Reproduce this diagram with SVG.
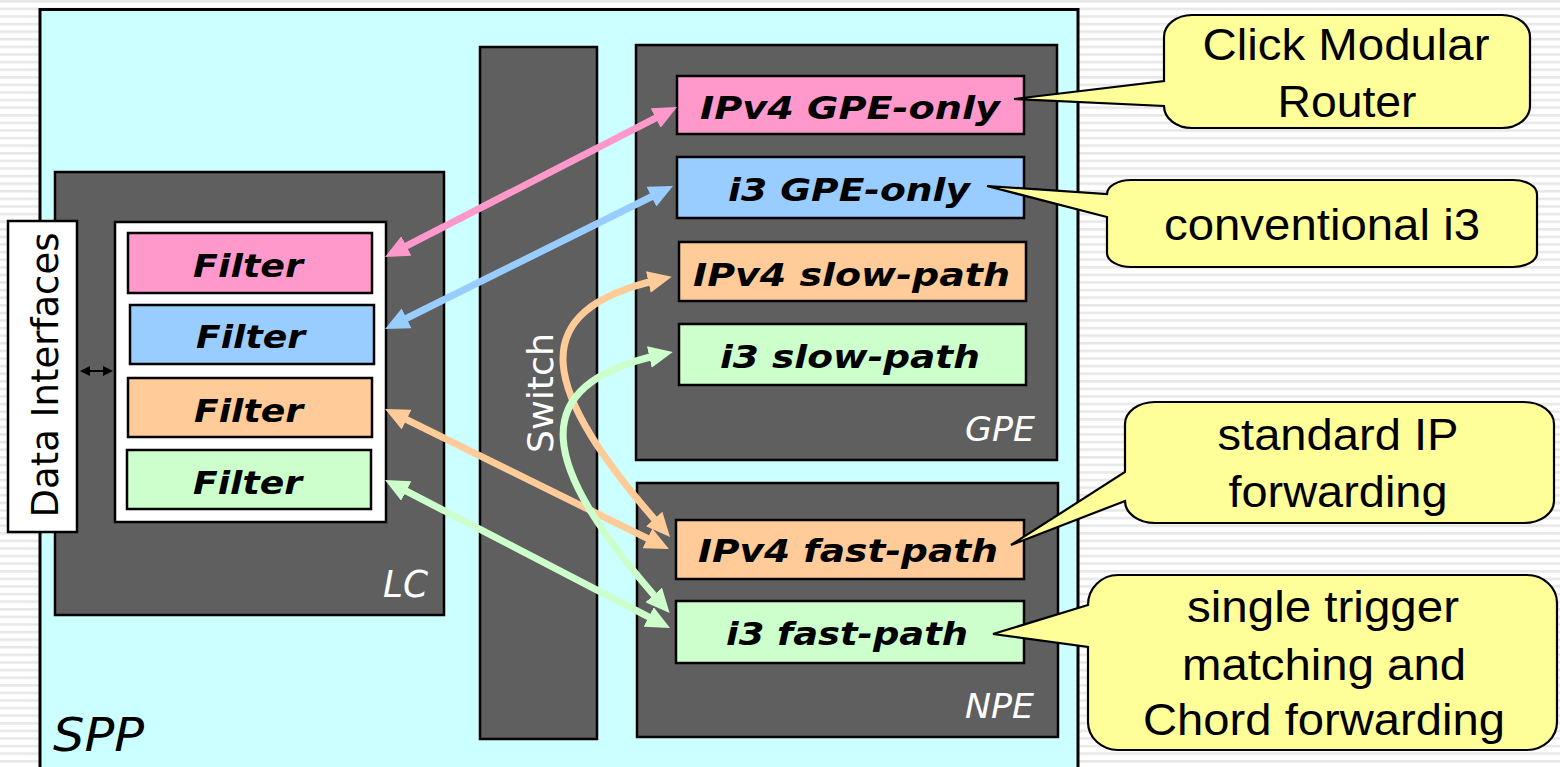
<svg xmlns="http://www.w3.org/2000/svg" width="1560" height="767" viewBox="0 0 1560 767">
<style>
.dark{fill:#5F5F5F;stroke:#000;stroke-width:2.5}
.box{stroke:#000;stroke-width:2.5}
.lbl{font-family:"DejaVu Sans",Verdana,sans-serif;font-weight:bold;font-style:italic;font-size:32px;fill:#000;text-anchor:middle}
.tag{font-family:"DejaVu Sans",Verdana,sans-serif;font-style:italic;fill:#fff}
.call{fill:#FFFF99;stroke:#000;stroke-width:2.2;stroke-linejoin:miter}
.ct{font-family:"Liberation Sans",Arial,sans-serif;font-size:44px;fill:#000;text-anchor:middle}
.conn{fill:none;stroke-width:7}
</style>
<defs>
<pattern id="stripes" width="8" height="7.6" patternUnits="userSpaceOnUse">
<rect width="8" height="7.6" fill="#FFFFFF"/>
<rect y="0" width="8" height="2.6" fill="#E8E8E8"/>
</pattern>
<marker id="mPink" viewBox="0 0 24 22" refX="14" refY="11" markerWidth="24" markerHeight="22" markerUnits="userSpaceOnUse" orient="auto-start-reverse"><path d="M0,0 L24,11 L0,22 Z" fill="#FF99CC"/></marker>
<marker id="mBlue" viewBox="0 0 24 22" refX="14" refY="11" markerWidth="24" markerHeight="22" markerUnits="userSpaceOnUse" orient="auto-start-reverse"><path d="M0,0 L24,11 L0,22 Z" fill="#99CCFF"/></marker>
<marker id="mOrange" viewBox="0 0 24 22" refX="14" refY="11" markerWidth="24" markerHeight="22" markerUnits="userSpaceOnUse" orient="auto-start-reverse"><path d="M0,0 L24,11 L0,22 Z" fill="#FFCC99"/></marker>
<marker id="mGreen" viewBox="0 0 24 22" refX="14" refY="11" markerWidth="24" markerHeight="22" markerUnits="userSpaceOnUse" orient="auto-start-reverse"><path d="M0,0 L24,11 L0,22 Z" fill="#CCFFCC"/></marker>
<marker id="mBlack" viewBox="0 0 10 10" refX="4" refY="5" markerWidth="10" markerHeight="10" markerUnits="userSpaceOnUse" orient="auto-start-reverse"><path d="M0,0 L10,5 L0,10 Z" fill="#000"/></marker>
</defs>

<rect width="1560" height="767" fill="url(#stripes)"/>

<g id="SPP">
<rect x="40" y="9.5" width="1038" height="790" fill="#CCFFFF" stroke="#000" stroke-width="3"/>
<text class="tag" x="53" y="751" font-size="46" textLength="91" lengthAdjust="spacingAndGlyphs" style="fill:#000">SPP</text>
</g>

<g id="LC">
<rect class="dark" x="55" y="172" width="389" height="443"/>
<text class="tag" x="383" y="597" font-size="37" textLength="45" lengthAdjust="spacingAndGlyphs">LC</text>
</g>

<g id="DataInterfaces">
<rect x="8" y="221" width="69" height="311" fill="#fff" stroke="#000" stroke-width="2.5"/>
<text transform="translate(58,375) rotate(-90)" x="0" y="0" font-family="DejaVu Sans, Verdana, sans-serif" font-size="38" text-anchor="middle" textLength="285" lengthAdjust="spacingAndGlyphs" fill="#000">Data Interfaces</text>
</g>

<g id="FilterGroup">
<rect x="115" y="222" width="271" height="300" fill="#fff" stroke="#000" stroke-width="2.5"/>
</g>
<g id="Filter1">
<rect class="box" x="128" y="233" width="244" height="60" fill="#FF99CC"/>
<text class="lbl" x="248" y="277" textLength="110" lengthAdjust="spacingAndGlyphs">Filter</text>
</g>
<g id="Filter2">
<rect class="box" x="130" y="305" width="244" height="59" fill="#99CCFF"/>
<text class="lbl" x="250.5" y="348" textLength="109" lengthAdjust="spacingAndGlyphs">Filter</text>
</g>
<g id="Filter3">
<rect class="box" x="128" y="378" width="244" height="59" fill="#FFCC99"/>
<text class="lbl" x="248.5" y="422" textLength="109" lengthAdjust="spacingAndGlyphs">Filter</text>
</g>
<g id="Filter4">
<rect class="box" x="127" y="450" width="244" height="59" fill="#CCFFCC"/>
<text class="lbl" x="247.5" y="494" textLength="109" lengthAdjust="spacingAndGlyphs">Filter</text>
</g>

<g id="Switch">
<rect class="dark" x="480" y="47" width="117" height="692"/>
<text class="tag" transform="translate(553,393) rotate(-90)" x="0" y="0" font-size="36" text-anchor="middle" textLength="120" lengthAdjust="spacingAndGlyphs" style="font-style:normal">Switch</text>
</g>

<g id="GPE">
<rect class="dark" x="636" y="45" width="421" height="415"/>
<text class="tag" x="965" y="441" font-size="33" textLength="70" lengthAdjust="spacingAndGlyphs">GPE</text>
</g>
<g id="IPv4GPEonly">
<rect class="box" x="677" y="76" width="347" height="58" fill="#FF99CC"/>
<text class="lbl" x="850" y="119" textLength="300" lengthAdjust="spacingAndGlyphs">IPv4 GPE-only</text>
</g>
<g id="i3GPEonly">
<rect class="box" x="677" y="157" width="347" height="61" fill="#99CCFF"/>
<text class="lbl" x="849" y="201" textLength="242" lengthAdjust="spacingAndGlyphs">i3 GPE-only</text>
</g>
<g id="IPv4slowpath">
<rect class="box" x="679" y="242" width="347" height="59" fill="#FFCC99"/>
<text class="lbl" x="851.5" y="286" textLength="317" lengthAdjust="spacingAndGlyphs">IPv4 slow-path</text>
</g>
<g id="i3slowpath">
<rect class="box" x="679" y="324" width="347" height="61" fill="#CCFFCC"/>
<text class="lbl" x="850" y="368" textLength="260" lengthAdjust="spacingAndGlyphs">i3 slow-path</text>
</g>

<g id="NPE">
<rect class="dark" x="637" y="483" width="421" height="254"/>
<text class="tag" x="965" y="718" font-size="34" textLength="69" lengthAdjust="spacingAndGlyphs">NPE</text>
</g>
<g id="IPv4fastpath">
<rect class="box" x="676" y="520" width="348" height="59" fill="#FFCC99"/>
<text class="lbl" x="848" y="562" textLength="300" lengthAdjust="spacingAndGlyphs">IPv4 fast-path</text>
</g>
<g id="i3fastpath">
<rect class="box" x="676" y="601" width="348" height="62" fill="#CCFFCC"/>
<text class="lbl" x="847" y="645" textLength="242" lengthAdjust="spacingAndGlyphs">i3 fast-path</text>
</g>

<g id="connectors">
<path class="conn" d="M393.9,252.4 L668.1,111.6" stroke="#FF99CC" marker-start="url(#mPink)" marker-end="url(#mPink)"/>
<path class="conn" d="M394,324.5 L664,190.5" stroke="#99CCFF" marker-start="url(#mBlue)" marker-end="url(#mBlue)"/>
<path class="conn" d="M394,413.4 L660,544.6" stroke="#FFCC99" marker-start="url(#mOrange)" marker-end="url(#mOrange)"/>
<path class="conn" d="M393.9,484.6 L661.1,623.4" stroke="#CCFFCC" marker-start="url(#mGreen)" marker-end="url(#mGreen)"/>
<path class="conn" d="M662,279 C520,310 540,390 663.4,529.5" stroke="#FFCC99" marker-start="url(#mOrange)" marker-end="url(#mOrange)"/>
<path class="conn" d="M663,354 C520,385 540,466 663,605.5" stroke="#CCFFCC" marker-start="url(#mGreen)" marker-end="url(#mGreen)"/>
<path d="M86,371 L107,371" stroke="#000" stroke-width="2" fill="none" marker-start="url(#mBlack)" marker-end="url(#mBlack)"/>
</g>

<g id="CalloutClick">
<path class="call" d="M1192,15 H1502 A28,22 0 0 1 1530,37 V106 A28,22 0 0 1 1502,128 H1192 A28,22 0 0 1 1164,106 L1014,99 L1164,81 V37 A28,22 0 0 1 1192,15 Z"/>
<text class="ct" x="1346" y="60" textLength="287" lengthAdjust="spacingAndGlyphs">Click Modular</text>
<text class="ct" x="1347" y="117" textLength="139" lengthAdjust="spacingAndGlyphs">Router</text>
</g>
<g id="CalloutI3">
<path class="call" d="M1131,180 H1513 A24,14 0 0 1 1537,194 V253 A24,14 0 0 1 1513,267 H1131 A24,14 0 0 1 1107,253 V217 L987,186 L1107,194 A24,14 0 0 1 1131,180 Z"/>
<text class="ct" x="1322" y="240" textLength="316" lengthAdjust="spacingAndGlyphs">conventional i3</text>
</g>
<g id="CalloutIP">
<path class="call" d="M1155,402 H1524 A30,22 0 0 1 1554,424 V501 A30,22 0 0 1 1524,523 H1155 A30,22 0 0 1 1125,501 L1011,545 L1125,472 V424 A30,22 0 0 1 1155,402 Z"/>
<text class="ct" x="1338" y="450" textLength="241" lengthAdjust="spacingAndGlyphs">standard IP</text>
<text class="ct" x="1338" y="507" textLength="219" lengthAdjust="spacingAndGlyphs">forwarding</text>
</g>
<g id="CalloutChord">
<path class="call" d="M1118,575 H1527 A30,28 0 0 1 1557,603 V722 A30,28 0 0 1 1527,750 H1118 A30,28 0 0 1 1088,722 V647 L993,634 L1088,605 A30,30 0 0 1 1118,575 Z"/>
<text class="ct" x="1323" y="622" textLength="272" lengthAdjust="spacingAndGlyphs">single trigger</text>
<text class="ct" x="1324" y="680" textLength="284" lengthAdjust="spacingAndGlyphs">matching and</text>
<text class="ct" x="1324" y="735" textLength="362" lengthAdjust="spacingAndGlyphs">Chord forwarding</text>
</g>
</svg>
